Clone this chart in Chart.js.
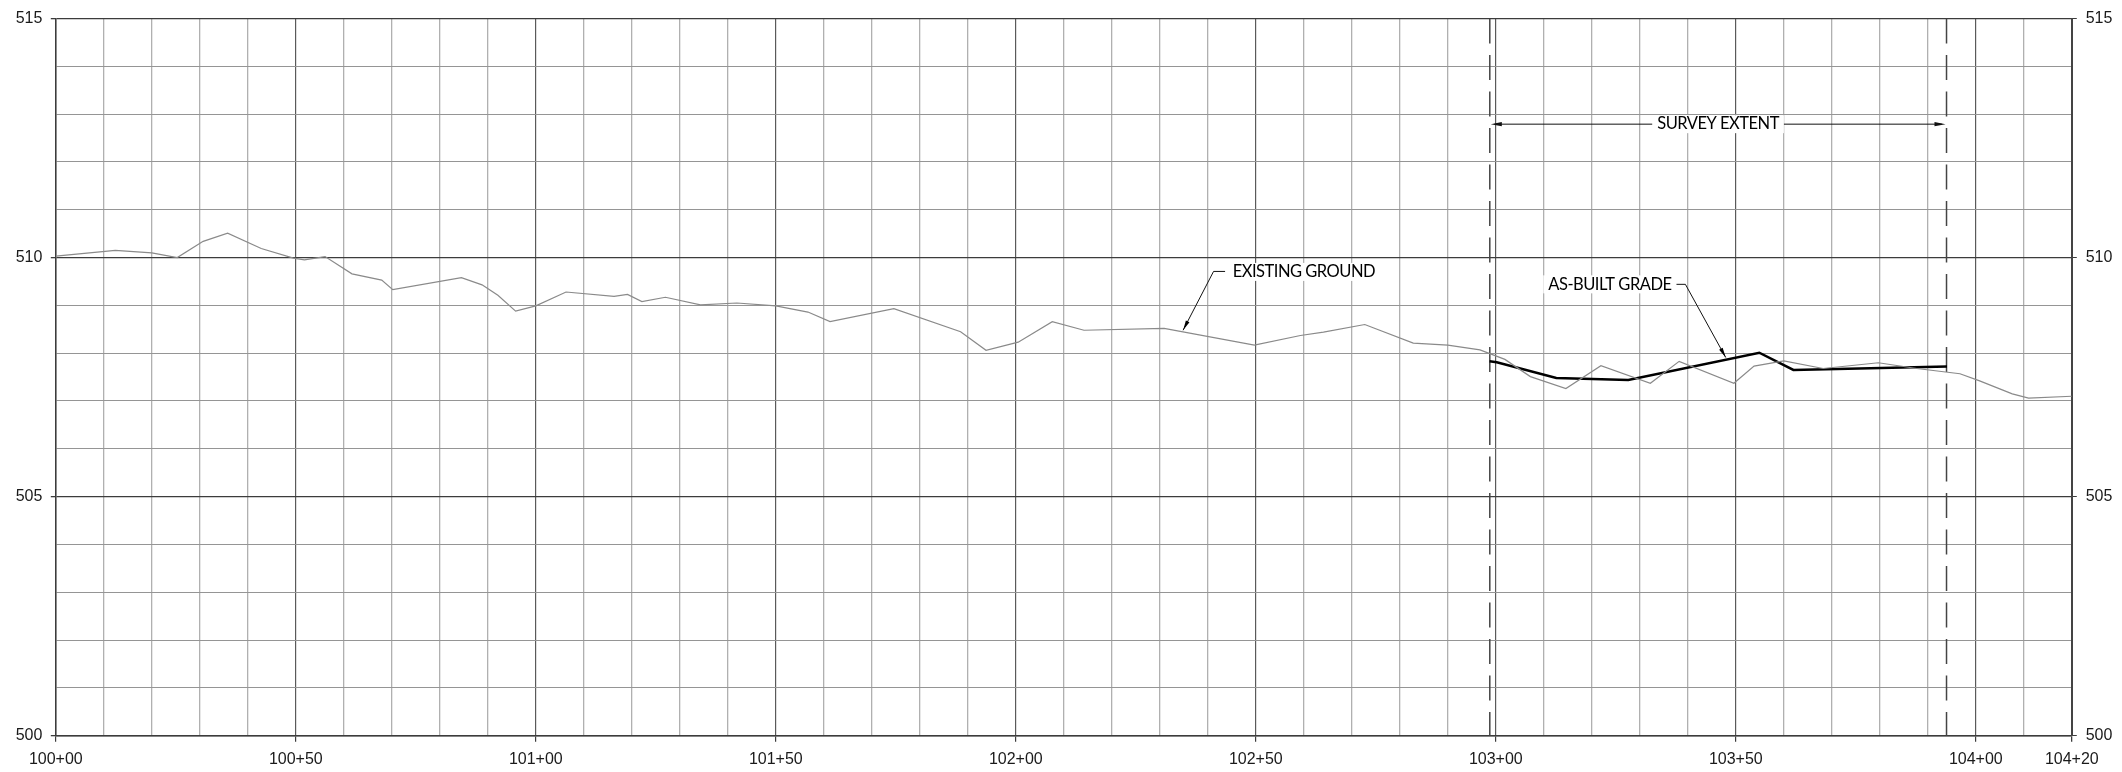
<!DOCTYPE html>
<html>
<head>
<meta charset="utf-8">
<title>Profile</title>
<script src="https://cdn.jsdelivr.net/npm/chart.js@4.4.1/dist/chart.umd.min.js"></script>
<style>
  html, body { margin: 0; padding: 0; background: #fff; }
  canvas { display: block; }
</style>
</head>
<body>
<canvas id="profileChart" width="2122" height="772"></canvas>
<script>
// existing ground (station in ft, elevation)
const groundSta = [10000, 10012.4, 10020, 10025.3, 10030.7, 10035.8, 10042.8, 10049.5, 10051.8, 10056.1,
  10061.7, 10067.9, 10070.2, 10084.5, 10088.8, 10092.1, 10095.8, 10100, 10106.3, 10116.3,
  10119.1, 10122.1, 10127, 10134.3, 10141.9, 10150, 10156.7, 10161.3, 10174.6, 10188.5,
  10193.8, 10200.5, 10207.6, 10214.2, 10230.9, 10249.7, 10259.3, 10264.1, 10272.7, 10282.8,
  10290, 10296.7, 10301.9, 10307.2, 10314.6, 10321.9, 10332.2, 10338.2, 10349.6, 10353.8,
  10360, 10368.2, 10379.7, 10387.7, 10396.7, 10400.8, 10407.6, 10411, 10420];
const groundElev = [510.03, 510.15, 510.10, 510.00, 510.34, 510.51, 510.19, 509.99, 509.95, 510.02,
  509.66, 509.53, 509.33, 509.58, 509.43, 509.21, 508.88, 508.99, 509.28, 509.19,
  509.23, 509.08, 509.17, 509.01, 509.05, 508.99, 508.86, 508.66, 508.93, 508.45,
  508.06, 508.23, 508.66, 508.48, 508.52, 508.17, 508.37, 508.44, 508.60, 508.21,
  508.17, 508.07, 507.87, 507.51, 507.26, 507.74, 507.37, 507.83, 507.37, 507.73,
  507.84, 507.68, 507.80, 507.68, 507.57, 507.42, 507.15, 507.06, 507.10];

// as-built grade
const gradeSta = [10298.7, 10300.2, 10312.6, 10327.6, 10354.9, 10362, 10394];
const gradeElev = [507.83, 507.81, 507.48, 507.44, 508.01, 507.65, 507.72];

// survey limits (dashed lines) and the dimension line height
const surveyLimits = [10298.75, 10393.9];
const surveyDimElev = 512.79;

// axis labels
const xLabelStations = [10000, 10050, 10100, 10150, 10200, 10250, 10300, 10350, 10400, 10420];
const yLabelElevs = [500, 505, 510, 515];

// callouts: text, anchor station / elevation, leader points
const callouts = [
  { text: 'SURVEY EXTENT', sta: 10346.3, elev: 512.79, align: 'center', leader: null },
  { text: 'EXISTING GROUND', sta: 10245.2, elev: 509.70, align: 'left',
    leader: [[10243.6, 509.71], [10241.2, 509.71], [10234.85, 508.48]] },
  { text: 'AS-BUILT GRADE', sta: 10336.6, elev: 509.44, align: 'right',
    leader: [[10337.4, 509.44], [10339.5, 509.44], [10347.9, 507.91]] }
];

const toPoints = (xs, ys) => xs.map((v, i) => ({ x: v, y: ys[i] }));

function fmtStation(v) {
  const s = Math.round(v);
  return Math.floor(s / 100) + '+' + String(s % 100).padStart(2, '0');
}

const MAJOR = '#3c3c3c';

function drawArrowHead(ctx, x0, y0, x1, y1, len, half) {
  const a = Math.atan2(y1 - y0, x1 - x0);
  ctx.beginPath();
  ctx.moveTo(x1, y1);
  ctx.lineTo(x1 - len * Math.cos(a) + half * Math.sin(a), y1 - len * Math.sin(a) - half * Math.cos(a));
  ctx.lineTo(x1 - len * Math.cos(a) - half * Math.sin(a), y1 - len * Math.sin(a) + half * Math.cos(a));
  ctx.closePath();
  ctx.fill();
}

// callouts, leaders and arrowheads
const calloutPlugin = {
  id: 'callouts',
  afterDatasetsDraw(chart) {
    const { ctx, scales: { x, y } } = chart;
    ctx.save();
    ctx.strokeStyle = '#111';
    ctx.fillStyle = '#111';
    ctx.lineWidth = 1;

    // survey extent arrowheads
    const yDim = y.getPixelForValue(surveyDimElev);
    const xa = x.getPixelForValue(surveyLimits[0]);
    const xb = x.getPixelForValue(surveyLimits[1]);
    drawArrowHead(ctx, xa + 20, yDim, xa + 1, yDim, 11, 2.2);
    drawArrowHead(ctx, xb - 20, yDim, xb - 1, yDim, 11, 2.2);

    ctx.font = '16.5px Lato';
    ctx.letterSpacing = '-0.5px';
    ctx.textBaseline = 'middle';
    callouts.forEach(c => {
      if (c.leader) {
        const pts = c.leader.map(p => [x.getPixelForValue(p[0]), y.getPixelForValue(p[1])]);
        ctx.beginPath();
        ctx.moveTo(pts[0][0], pts[0][1]);
        for (let i = 1; i < pts.length; i++) ctx.lineTo(pts[i][0], pts[i][1]);
        ctx.stroke();
        const n = pts.length;
        drawArrowHead(ctx, pts[n - 2][0], pts[n - 2][1], pts[n - 1][0], pts[n - 1][1], 10, 2);
      }
      const w = ctx.measureText(c.text).width;
      const px = x.getPixelForValue(c.sta);
      const py = y.getPixelForValue(c.elev);
      let left = px;
      if (c.align === 'center') left = px - w / 2;
      if (c.align === 'right') left = px - w;
      ctx.fillStyle = '#fff';
      ctx.fillRect(left - 5, py - 9, w + 10, 18);
      ctx.fillStyle = '#000';
      ctx.textAlign = 'left';
      ctx.fillText(c.text, left, py);
    });
    ctx.restore();
  }
};

const isMajorX = v => Math.round(v) % 50 === 0;
const isMajorY = v => Math.round(v) % 5 === 0;

const ctx = document.getElementById('profileChart').getContext('2d');
const chart = new Chart(ctx, {
  type: 'line',
  data: {
    datasets: [
      {
        label: 'Existing ground',
        data: toPoints(groundSta, groundElev),
        borderColor: '#8a8a8a',
        borderWidth: 1.2,
        pointRadius: 0,
        tension: 0
      },
      {
        label: 'As-built grade',
        data: toPoints(gradeSta, gradeElev),
        borderColor: '#000',
        borderWidth: 2.5,
        pointRadius: 0,
        tension: 0
      },
      {
        label: 'Survey limit start',
        data: [{ x: surveyLimits[0], y: 515 }, { x: surveyLimits[0], y: 500 }],
        borderColor: '#444',
        borderWidth: 1.5,
        borderDash: [25, 11.5],
        pointRadius: 0
      },
      {
        label: 'Survey limit end',
        data: [{ x: surveyLimits[1], y: 515 }, { x: surveyLimits[1], y: 500 }],
        borderColor: '#444',
        borderWidth: 1.5,
        borderDash: [25, 11.5],
        pointRadius: 0
      },
      {
        label: 'Survey extent',
        data: [{ x: surveyLimits[0] + 1, y: surveyDimElev }, { x: surveyLimits[1] - 1, y: surveyDimElev }],
        borderColor: '#111',
        borderWidth: 1,
        pointRadius: 0
      }
    ]
  },
  options: {
    responsive: false,
    animation: false,
    devicePixelRatio: 1,
    layout: { padding: { top: 15.3, left: 0, right: 0, bottom: 0 } },
    plugins: {
      legend: { display: false },
      tooltip: { enabled: false }
    },
    scales: {
      x: {
        type: 'linear',
        min: 10000,
        max: 10420,
        afterFit: s => { s.height = 36.3; },
        ticks: {
          stepSize: 10,
          autoSkip: false,
          maxRotation: 0,
          padding: 8,
          color: '#1a1a1a',
          font: { family: 'Liberation Sans', size: 16 },
          callback: v => xLabelStations.includes(Math.round(v)) ? fmtStation(v) : ''
        },
        grid: {
          color: c => isMajorX(c.tick.value) ? '#5a5a5a' : '#b0b0b0',
          lineWidth: c => isMajorX(c.tick.value) ? 1.2 : 1.3,
          tickLength: 6,
          tickColor: c => xLabelStations.includes(Math.round(c.tick.value)) ? MAJOR : 'rgba(0,0,0,0)'
        },
        border: { color: MAJOR, width: 1.5 }
      },
      y: {
        min: 500,
        max: 515,
        afterFit: s => { s.width = 55.8; },
        ticks: {
          stepSize: 1,
          padding: 8.4,
          color: '#1a1a1a',
          font: { family: 'Liberation Sans', size: 16 },
          callback: v => yLabelElevs.includes(Math.round(v)) ? String(Math.round(v)) : ''
        },
        grid: {
          color: c => isMajorY(c.tick.value) ? MAJOR : '#959595',
          lineWidth: c => isMajorY(c.tick.value) ? 1.3 : 1.1,
          tickLength: 5,
          tickColor: c => yLabelElevs.includes(Math.round(c.tick.value)) ? MAJOR : 'rgba(0,0,0,0)'
        },
        border: { color: MAJOR, width: 1.5 }
      },
      y2: {
        position: 'right',
        min: 500,
        max: 515,
        afterFit: s => { s.width = 50.2; },
        ticks: {
          stepSize: 1,
          padding: 8.9,
          color: '#1a1a1a',
          font: { family: 'Liberation Sans', size: 16 },
          callback: v => yLabelElevs.includes(Math.round(v)) ? String(Math.round(v)) : ''
        },
        grid: {
          drawOnChartArea: false,
          tickLength: 5,
          tickColor: c => yLabelElevs.includes(Math.round(c.tick.value)) ? MAJOR : 'rgba(0,0,0,0)'
        },
        border: { color: '#444', width: 2 }
      }
    }
  },
  plugins: [calloutPlugin]
});
</script>
</body>
</html>
